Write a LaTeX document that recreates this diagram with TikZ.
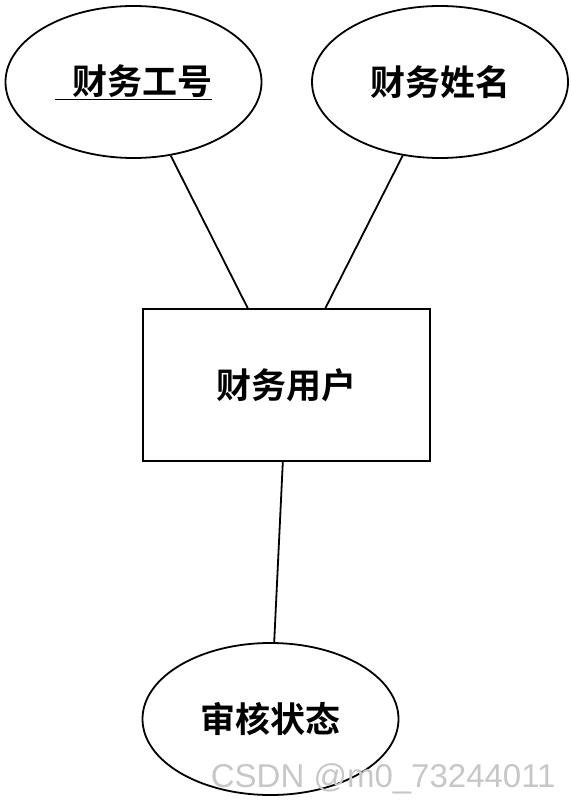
\documentclass[tikz,border=0pt]{standalone}
\usepackage{fontspec}
\newfontfamily\cjk{Noto Sans CJK SC Bold}
\newfontfamily\wmfont{Liberation Sans}
\usetikzlibrary{shapes.geometric}
\tikzset{%
  every attr/.style={
    ellipse,
    draw,
    line width=1.8pt,
    inner sep=0pt,
    minimum width=256pt,
    minimum height=152pt,
    font=\fontsize{35}{42}\cjk
  },
  every entity/.style={
    rectangle,
    draw,
    line width=1.8pt,
    inner sep=0pt,
    minimum width=287pt,
    minimum height=152pt,
    font=\fontsize{35}{42}\cjk
  }
 }

\begin{document}
\begin{tikzpicture}[x=1pt, y=-1pt, line width=1.8pt]
\useasboundingbox (0,0) rectangle (572,802);

\node [every entity] (user) at (286.5,385) {财务用户};

\node [every attr] (gonghao) at (133.5,82) {\underline{\hspace{0.5em}财务工号}};
\node [every attr] (xingming) at (440,82) {财务姓名};
\node [every attr] (zhuangtai) at (270.5,719) {审核状态};

\foreach \a in {gonghao, xingming, zhuangtai}
  \draw (\a) -- (user);

\node [anchor=base west, inner sep=0pt, text=black!22,
  font=\fontsize{33}{40}\wmfont] (wm) at (210,787) {CSDN @m0\_73244011};

\end{tikzpicture}
\end{document}
